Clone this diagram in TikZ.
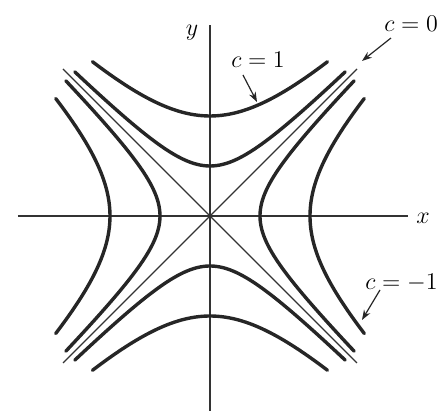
\documentclass[tikz,border=0pt]{standalone}
\usetikzlibrary{arrows.meta}
\begin{document}
\begin{tikzpicture}[x=0.5pt,y=0.5pt,
  curve/.style={line width=1.7pt,black!85,line cap=round},
  thinline/.style={line width=0.6pt,black!80},
  axis/.style={line width=0.75pt,black!80},
  pointer/.style={line width=0.6pt,black!85,-{Stealth[length=5pt,width=3.6pt]}},
  lbl/.style={font=\fontsize{13}{15}\selectfont,inner sep=0pt}]
\useasboundingbox (-210,-195) rectangle (237,216);
% axes
\coordinate (xL) at (-192,0);
\coordinate (xR) at (198,0);
\coordinate (yB) at (0,-200);
\coordinate (yT) at (0,191);
\draw[axis] (xL) -- (xR);
\draw[axis] (yB) -- (yT);
\node[lbl] (xlab) at (213,-2) {$x$};
\node[lbl] (ylab) at (-18,183) {$y$};
% asymptotes (c = 0)
\coordinate (d1) at (-147,-147);
\coordinate (d2) at (147,147);
\coordinate (d3) at (-147,147);
\coordinate (d4) at (147,-147);
\draw[thinline] (d1) -- (d2);
\draw[thinline] (d3) -- (d4);
% hyperbolas
\foreach \a/\t in {50/1.72, 100/1.0}{
  \draw[curve] plot[domain=-\t:\t,samples=60,smooth] ({\a*sinh(\x)},{\a*cosh(\x)});
  \draw[curve] plot[domain=-\t:\t,samples=60,smooth] ({\a*sinh(\x)},{-\a*cosh(\x)});
  \draw[curve] plot[domain=-\t:\t,samples=60,smooth] ({\a*cosh(\x)},{\a*sinh(\x)});
  \draw[curve] plot[domain=-\t:\t,samples=60,smooth] ({-\a*cosh(\x)},{\a*sinh(\x)});
}
% labels and pointers
\node[lbl] (l1) at (48,156) {$c=1$};
\coordinate (s1) at (33,141);
\coordinate (t1) at (47,114);
\draw[pointer] (s1) -- (t1);
\node[lbl,anchor=west] (l0) at (174,192) {$c=0$};
\coordinate (s0) at (181,178);
\coordinate (t0) at (152,155);
\draw[pointer] (s0) -- (t0);
\node[lbl,anchor=west] (lm) at (155,-67) {$c=-1$};
\coordinate (sm) at (170,-74);
\coordinate (tm) at (152,-104);
\draw[pointer] (sm) -- (tm);
\end{tikzpicture}
\end{document}
